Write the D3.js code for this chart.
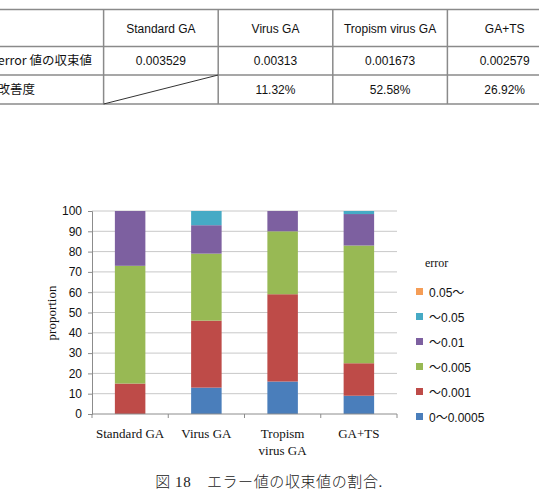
<!DOCTYPE html>
<html>
<head>
<meta charset="utf-8">
<script src="https://cdn.jsdelivr.net/npm/d3@7"></script>
<style>
  body { margin: 0; background: #fff; }
  svg { display: block; }
</style>
</head>
<body>
<svg id="chart" width="539" height="492"></svg>
<script>
// table data
var tableCols = ["Standard GA", "Virus GA", "Tropism virus GA", "GA+TS"];
var tableRowLabels = ["error 値の収束値", "改善度"];
var convergeVals = ["0.003529", "0.00313", "0.001673", "0.002579"];
var improveVals = [null, "11.32%", "52.58%", "26.92%"];

// chart data
var categories = [["Standard GA"], ["Virus GA"], ["Tropism", "virus GA"], ["GA+TS"]];
var seriesNames = ["0〜0.0005", "〜0.001", "〜0.005", "〜0.01", "〜0.05", "0.05〜"];
var seriesColors = ["#4a7ebb", "#be4b48", "#98b954", "#7d60a0", "#46aac5", "#f59d56"];
var s0 = [0, 13, 16, 9];      // 0~0.0005
var s1 = [15, 33, 43, 16];    // ~0.001
var s2 = [58, 33, 31, 58];    // ~0.005
var s3 = [27, 14, 10, 15.5];  // ~0.01
var s4 = [0, 7, 0, 1.5];      // ~0.05
var s5 = [0, 0, 0, 0];        // 0.05~
var yTicks = d3.range(0, 101, 10);

var svg = d3.select("#chart");

/*
 *  Table
 */
var tbl = svg.append("g");
var colX = d3.scaleBand().domain(d3.range(5)).range([-11, 562]); // col 0 = label column
var rowY = [9.5, 46.5, 75, 104];
var lineCol = "#8a8a8a";

rowY.forEach(function(y) {
  tbl.append("line").attr("x1", 0).attr("x2", 539).attr("y1", y).attr("y2", y)
    .attr("stroke", lineCol).attr("stroke-width", 1.5);
});
[1, 2, 3, 4].forEach(function(i) {
  tbl.append("line").attr("x1", colX(i)).attr("x2", colX(i))
    .attr("y1", rowY[0]).attr("y2", rowY[3])
    .attr("stroke", lineCol).attr("stroke-width", 1.5);
});
// diagonal in empty cell
tbl.append("line").attr("x1", colX(1)).attr("y1", rowY[3]).attr("x2", colX(2)).attr("y2", rowY[2])
  .attr("stroke", "#333").attr("stroke-width", 1);

var tFont = "Liberation Sans, Arial, 'Noto Sans CJK JP', sans-serif";
function cellText(i, y, txt) {
  tbl.append("text").attr("x", colX(i) + colX.bandwidth() / 2).attr("y", y)
    .attr("text-anchor", "middle").attr("font-family", tFont).attr("font-size", 12)
    .attr("fill", "#111").text(txt);
}
tableCols.forEach(function(c, i) { cellText(i + 1, 33, c); });
convergeVals.forEach(function(c, i) { cellText(i + 1, 65, c); });
improveVals.forEach(function(c, i) { if (c) cellText(i + 1, 94, c); });

// row labels are cropped at the left edge, as in the source image
tbl.append("text").attr("x", 92).attr("y", 65).attr("text-anchor", "end")
  .attr("font-family", "'Noto Sans CJK JP', sans-serif").attr("font-size", 12.5)
  .attr("fill", "#111").text(tableRowLabels[0]);
tbl.append("text").attr("x", 35).attr("y", 94).attr("text-anchor", "end")
  .attr("font-family", "'Noto Sans CJK JP', sans-serif").attr("font-size", 12.5)
  .attr("fill", "#111").text(tableRowLabels[1]);

/*
 *  Stacked bar chart
 */
var margin = { left: 92, right: 397, top: 211, bottom: 414 };
var x = d3.scaleBand().domain(d3.range(categories.length)).range([margin.left, margin.right])
  .paddingInner(0.6).paddingOuter(0.3);
var y = d3.scaleLinear().domain([0, 100]).range([margin.bottom, margin.top]);

var rows = categories.map(function(c, i) {
  return { k0: s0[i], k1: s1[i], k2: s2[i], k3: s3[i], k4: s4[i], k5: s5[i] };
});
var stack = d3.stack().keys(["k0", "k1", "k2", "k3", "k4", "k5"])(rows);

// gridlines
svg.append("g").selectAll("line").data(yTicks.slice(1)).enter().append("line")
  .attr("x1", margin.left).attr("x2", margin.right)
  .attr("y1", function(d) { return y(d); }).attr("y2", function(d) { return y(d); })
  .attr("stroke", "#c8c8c8").attr("stroke-width", 1);

// bars
svg.append("g").selectAll("g").data(stack).enter().append("g")
  .attr("fill", function(d, i) { return seriesColors[i]; })
  .selectAll("rect").data(function(d) { return d; }).enter().append("rect")
  .attr("x", function(d, i) { return x(i); })
  .attr("width", x.bandwidth())
  .attr("y", function(d) { return y(d[1]); })
  .attr("height", function(d) { return y(d[0]) - y(d[1]); });

// y axis
var yAxis = svg.append("g").attr("transform", "translate(" + margin.left + ",0)")
  .call(d3.axisLeft(y).tickValues(yTicks).tickSize(4).tickPadding(6));
yAxis.select(".domain").attr("stroke", "#8c8c8c");
yAxis.selectAll(".tick line").attr("stroke", "#8c8c8c");
yAxis.selectAll("text").attr("font-family", "Liberation Sans, Arial, sans-serif")
  .attr("font-size", 12).attr("fill", "#111");

// x axis with ticks at category boundaries
var xBase = svg.append("g");
xBase.append("line").attr("x1", margin.left).attr("x2", margin.right)
  .attr("y1", y(0)).attr("y2", y(0)).attr("stroke", "#8c8c8c");
xBase.selectAll(".bt").data(d3.range(categories.length + 1)).enter().append("line")
  .attr("x1", function(i) { return margin.left + i * x.step() * (margin.right - margin.left) / (x.step() * categories.length); })
  .attr("x2", function(i) { return margin.left + i * x.step() * (margin.right - margin.left) / (x.step() * categories.length); })
  .attr("y1", y(0)).attr("y2", y(0) + 4).attr("stroke", "#8c8c8c");

var serif = "Liberation Serif, 'Times New Roman', 'Noto Sans CJK JP', serif";
categories.forEach(function(lines, i) {
  var t = xBase.append("text").attr("text-anchor", "middle")
    .attr("font-family", serif).attr("font-size", 13).attr("fill", "#111");
  lines.forEach(function(l, j) {
    t.append("tspan").attr("x", x(i) + x.bandwidth() / 2).attr("y", 438 + j * 17).text(l);
  });
});

// y label
svg.append("text").attr("transform", "translate(56,313) rotate(-90)")
  .attr("text-anchor", "middle").attr("font-family", serif).attr("font-size", 13)
  .attr("fill", "#111").text("proportion");

// legend
var leg = svg.append("g");
leg.append("text").attr("x", 425).attr("y", 267).attr("font-family", serif)
  .attr("font-size", 12).attr("fill", "#111").text("error");
var legOrder = d3.range(seriesNames.length).reverse();
var ly = d3.scalePoint().domain(legOrder).range([292, 417]);
legOrder.forEach(function(k) {
  leg.append("rect").attr("x", 416).attr("y", ly(k) - 4).attr("width", 7).attr("height", 7)
    .attr("fill", seriesColors[k]);
  leg.append("text").attr("x", 429).attr("y", ly(k) + 4.5)
    .attr("font-family", "Liberation Sans, Arial, 'Noto Sans CJK JP', sans-serif")
    .attr("font-size", 12).attr("fill", "#111").text(seriesNames[k]);
});

// caption
svg.append("text").attr("x", 269).attr("y", 487).attr("text-anchor", "middle")
  .attr("font-family", serif).attr("font-size", 15).attr("font-weight", 300)
  .attr("letter-spacing", 0.6).attr("fill", "#222")
  .text("図 18　エラー値の収束値の割合.");
</script>
</body>
</html>
